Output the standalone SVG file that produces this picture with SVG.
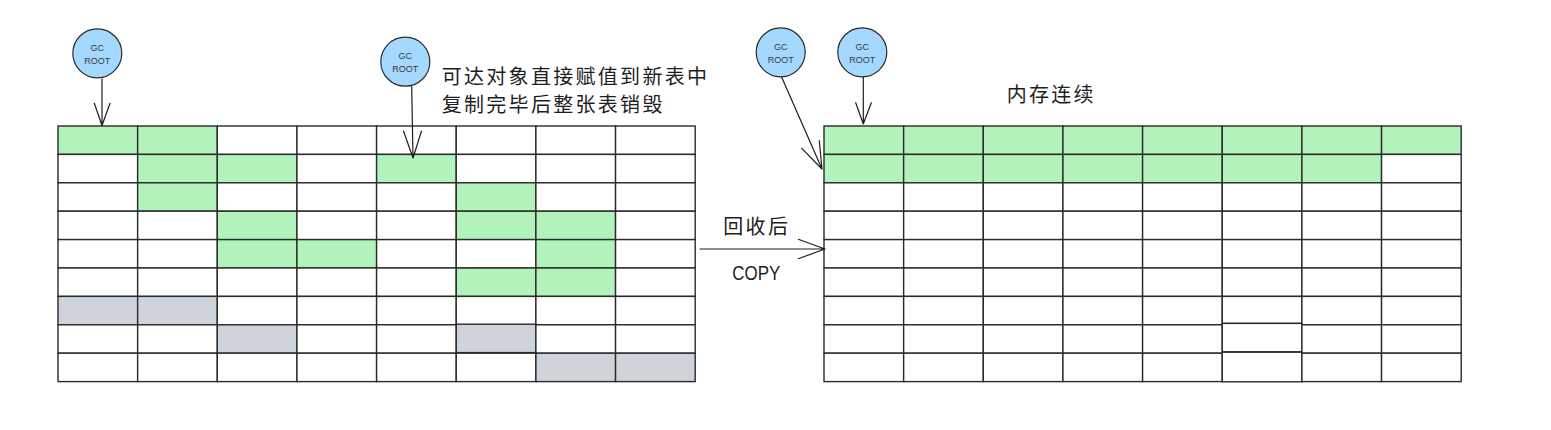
<svg xmlns="http://www.w3.org/2000/svg" width="1551" height="430" viewBox="0 0 1551 430">
<style>
.c rect{stroke:#2b2b2b;stroke-width:1.4}
.g{fill:#b2f2bb}.w{fill:#ffffff}.s{fill:#ced4da}
.root circle{fill:#a5d8ff;stroke:#2b2b2b;stroke-width:1.2}
.root text{font-family:"Liberation Sans",sans-serif;font-size:9px;fill:#343a40;text-anchor:middle}
.lbl{font-family:"Noto Sans CJK SC",sans-serif;font-size:20px;fill:#1e1e1e;letter-spacing:2.3px}
.conn path{fill:none;stroke:#1e1e1e;stroke-width:1.2;stroke-linecap:round;stroke-linejoin:round}
</style>
<rect width="1551" height="430" fill="#ffffff"/>
<g id="left-grid" class="c">
<g transform="translate(0,126)"><rect class="g" x="58" y="0" width="79.65" height="28.4"/><rect class="g" x="137.65" y="0" width="79.65" height="28.4"/><rect class="w" x="217.3" y="0" width="79.65" height="28.4"/><rect class="w" x="296.95" y="0" width="79.65" height="28.4"/><rect class="w" x="376.6" y="0" width="79.65" height="28.4"/><rect class="w" x="456.25" y="0" width="79.65" height="28.4"/><rect class="w" x="535.9" y="0" width="79.65" height="28.4"/><rect class="w" x="615.55" y="0" width="79.65" height="28.4"/></g>
<g transform="translate(0,154.4)"><rect class="w" x="58" y="0" width="79.65" height="28.4"/><rect class="g" x="137.65" y="0" width="79.65" height="28.4"/><rect class="g" x="217.3" y="0" width="79.65" height="28.4"/><rect class="w" x="296.95" y="0" width="79.65" height="28.4"/><rect class="g" x="376.6" y="0" width="79.65" height="28.4"/><rect class="w" x="456.25" y="0" width="79.65" height="28.4"/><rect class="w" x="535.9" y="0" width="79.65" height="28.4"/><rect class="w" x="615.55" y="0" width="79.65" height="28.4"/></g>
<g transform="translate(0,182.8)"><rect class="w" x="58" y="0" width="79.65" height="28.4"/><rect class="g" x="137.65" y="0" width="79.65" height="28.4"/><rect class="w" x="217.3" y="0" width="79.65" height="28.4"/><rect class="w" x="296.95" y="0" width="79.65" height="28.4"/><rect class="w" x="376.6" y="0" width="79.65" height="28.4"/><rect class="g" x="456.25" y="0" width="79.65" height="28.4"/><rect class="w" x="535.9" y="0" width="79.65" height="28.4"/><rect class="w" x="615.55" y="0" width="79.65" height="28.4"/></g>
<g transform="translate(0,211.2)"><rect class="w" x="58" y="0" width="79.65" height="28.4"/><rect class="w" x="137.65" y="0" width="79.65" height="28.4"/><rect class="g" x="217.3" y="0" width="79.65" height="28.4"/><rect class="w" x="296.95" y="0" width="79.65" height="28.4"/><rect class="w" x="376.6" y="0" width="79.65" height="28.4"/><rect class="g" x="456.25" y="0" width="79.65" height="28.4"/><rect class="g" x="535.9" y="0" width="79.65" height="28.4"/><rect class="w" x="615.55" y="0" width="79.65" height="28.4"/></g>
<g transform="translate(0,239.6)"><rect class="w" x="58" y="0" width="79.65" height="28.4"/><rect class="w" x="137.65" y="0" width="79.65" height="28.4"/><rect class="g" x="217.3" y="0" width="79.65" height="28.4"/><rect class="g" x="296.95" y="0" width="79.65" height="28.4"/><rect class="w" x="376.6" y="0" width="79.65" height="28.4"/><rect class="w" x="456.25" y="0" width="79.65" height="28.4"/><rect class="g" x="535.9" y="0" width="79.65" height="28.4"/><rect class="w" x="615.55" y="0" width="79.65" height="28.4"/></g>
<g transform="translate(0,268)"><rect class="w" x="58" y="0" width="79.65" height="28.4"/><rect class="w" x="137.65" y="0" width="79.65" height="28.4"/><rect class="w" x="217.3" y="0" width="79.65" height="28.4"/><rect class="w" x="296.95" y="0" width="79.65" height="28.4"/><rect class="w" x="376.6" y="0" width="79.65" height="28.4"/><rect class="g" x="456.25" y="0" width="79.65" height="28.4"/><rect class="g" x="535.9" y="0" width="79.65" height="28.4"/><rect class="w" x="615.55" y="0" width="79.65" height="28.4"/></g>
<g transform="translate(0,296.4)"><rect class="s" x="58" y="0" width="79.65" height="28.4"/><rect class="s" x="137.65" y="0" width="79.65" height="28.4"/><rect class="w" x="217.3" y="0" width="79.65" height="28.4"/><rect class="w" x="296.95" y="0" width="79.65" height="28.4"/><rect class="w" x="376.6" y="0" width="79.65" height="28.4"/><rect class="w" x="456.25" y="0" width="79.65" height="28.4"/><rect class="w" x="535.9" y="0" width="79.65" height="28.4"/><rect class="w" x="615.55" y="0" width="79.65" height="28.4"/></g>
<g transform="translate(0,324.8)"><rect class="w" x="58" y="0" width="79.65" height="28.4"/><rect class="w" x="137.65" y="0" width="79.65" height="28.4"/><rect class="s" x="217.3" y="0" width="79.65" height="28.4"/><rect class="w" x="296.95" y="0" width="79.65" height="28.4"/><rect class="w" x="376.6" y="0" width="79.65" height="28.4"/><rect class="s" x="456.25" y="-0.6" width="79.65" height="28.4"/><rect class="w" x="535.9" y="0" width="79.65" height="28.4"/><rect class="w" x="615.55" y="0" width="79.65" height="28.4"/></g>
<g transform="translate(0,353.2)"><rect class="w" x="58" y="0" width="79.65" height="28.4"/><rect class="w" x="137.65" y="0" width="79.65" height="28.4"/><rect class="w" x="217.3" y="0" width="79.65" height="28.4"/><rect class="w" x="296.95" y="0" width="79.65" height="28.4"/><rect class="w" x="376.6" y="0" width="79.65" height="28.4"/><rect class="w" x="456.25" y="0" width="79.65" height="28.4"/><rect class="s" x="535.9" y="0" width="79.65" height="28.4"/><rect class="s" x="615.55" y="0" width="79.65" height="28.4"/></g>
</g>
<g id="right-grid" class="c">
<g transform="translate(0,126)"><rect class="g" x="824" y="0" width="79.65" height="28.4"/><rect class="g" x="903.65" y="0" width="79.65" height="28.4"/><rect class="g" x="983.3" y="0" width="79.65" height="28.4"/><rect class="g" x="1062.95" y="0" width="79.65" height="28.4"/><rect class="g" x="1142.6" y="0" width="79.65" height="28.4"/><rect class="g" x="1222.25" y="0" width="79.65" height="28.4"/><rect class="g" x="1301.9" y="0" width="79.65" height="28.4"/><rect class="g" x="1381.55" y="0" width="79.65" height="28.4"/></g>
<g transform="translate(0,154.4)"><rect class="g" x="824" y="0" width="79.65" height="28.4"/><rect class="g" x="903.65" y="0" width="79.65" height="28.4"/><rect class="g" x="983.3" y="0" width="79.65" height="28.4"/><rect class="g" x="1062.95" y="0" width="79.65" height="28.4"/><rect class="g" x="1142.6" y="0" width="79.65" height="28.4"/><rect class="g" x="1222.25" y="0" width="79.65" height="28.4"/><rect class="g" x="1301.9" y="0" width="79.65" height="28.4"/><rect class="w" x="1381.55" y="0" width="79.65" height="28.4"/></g>
<g transform="translate(0,182.8)"><rect class="w" x="824" y="0" width="79.65" height="28.4"/><rect class="w" x="903.65" y="0" width="79.65" height="28.4"/><rect class="w" x="983.3" y="0" width="79.65" height="28.4"/><rect class="w" x="1062.95" y="0" width="79.65" height="28.4"/><rect class="w" x="1142.6" y="0" width="79.65" height="28.4"/><rect class="w" x="1222.25" y="0" width="79.65" height="28.4"/><rect class="w" x="1301.9" y="0" width="79.65" height="28.4"/><rect class="w" x="1381.55" y="0" width="79.65" height="28.4"/></g>
<g transform="translate(0,211.2)"><rect class="w" x="824" y="0" width="79.65" height="28.4"/><rect class="w" x="903.65" y="0" width="79.65" height="28.4"/><rect class="w" x="983.3" y="0" width="79.65" height="28.4"/><rect class="w" x="1062.95" y="0" width="79.65" height="28.4"/><rect class="w" x="1142.6" y="0" width="79.65" height="28.4"/><rect class="w" x="1222.25" y="0" width="79.65" height="28.4"/><rect class="w" x="1301.9" y="0" width="79.65" height="28.4"/><rect class="w" x="1381.55" y="0" width="79.65" height="28.4"/></g>
<g transform="translate(0,239.6)"><rect class="w" x="824" y="0" width="79.65" height="28.4"/><rect class="w" x="903.65" y="0" width="79.65" height="28.4"/><rect class="w" x="983.3" y="0" width="79.65" height="28.4"/><rect class="w" x="1062.95" y="0" width="79.65" height="28.4"/><rect class="w" x="1142.6" y="0" width="79.65" height="28.4"/><rect class="w" x="1222.25" y="0" width="79.65" height="28.4"/><rect class="w" x="1301.9" y="0" width="79.65" height="28.4"/><rect class="w" x="1381.55" y="0" width="79.65" height="28.4"/></g>
<g transform="translate(0,268)"><rect class="w" x="824" y="0" width="79.65" height="28.4"/><rect class="w" x="903.65" y="0" width="79.65" height="28.4"/><rect class="w" x="983.3" y="0" width="79.65" height="28.4"/><rect class="w" x="1062.95" y="0" width="79.65" height="28.4"/><rect class="w" x="1142.6" y="0" width="79.65" height="28.4"/><rect class="w" x="1222.25" y="0" width="79.65" height="28.4"/><rect class="w" x="1301.9" y="0" width="79.65" height="28.4"/><rect class="w" x="1381.55" y="0" width="79.65" height="28.4"/></g>
<g transform="translate(0,296.4)"><rect class="w" x="824" y="0" width="79.65" height="28.4"/><rect class="w" x="903.65" y="0" width="79.65" height="28.4"/><rect class="w" x="983.3" y="0" width="79.65" height="28.4"/><rect class="w" x="1062.95" y="0" width="79.65" height="28.4"/><rect class="w" x="1142.6" y="0" width="79.65" height="28.4"/><rect class="w" x="1222.25" y="0" width="79.65" height="27"/><rect class="w" x="1301.9" y="0" width="79.65" height="28.4"/><rect class="w" x="1381.55" y="0" width="79.65" height="28.4"/></g>
<g transform="translate(0,324.8)"><rect class="w" x="824" y="0" width="79.65" height="28.4"/><rect class="w" x="903.65" y="0" width="79.65" height="28.4"/><rect class="w" x="983.3" y="0" width="79.65" height="28.4"/><rect class="w" x="1062.95" y="0" width="79.65" height="28.4"/><rect class="w" x="1142.6" y="0" width="79.65" height="28.4"/><rect class="w" x="1222.25" y="-1.4" width="79.65" height="28.4"/><rect class="w" x="1301.9" y="0" width="79.65" height="28.4"/><rect class="w" x="1381.55" y="0" width="79.65" height="28.4"/></g>
<g transform="translate(0,353.2)"><rect class="w" x="824" y="0" width="79.65" height="28.4"/><rect class="w" x="903.65" y="0" width="79.65" height="28.4"/><rect class="w" x="983.3" y="0" width="79.65" height="28.4"/><rect class="w" x="1062.95" y="0" width="79.65" height="28.4"/><rect class="w" x="1142.6" y="0" width="79.65" height="28.4"/><rect class="w" x="1222.25" y="-1" width="79.65" height="29.6"/><rect class="w" x="1301.9" y="0" width="79.65" height="28.4"/><rect class="w" x="1381.55" y="0" width="79.65" height="28.4"/></g>
</g>
<g id="root1" class="root"><circle cx="97.3" cy="53.3" r="24.5"/><text x="97.3" y="50.6">GC</text><text x="97.3" y="64">ROOT</text></g>
<g id="root2" class="root"><circle cx="405.3" cy="61.7" r="24.5"/><text x="405.3" y="59">GC</text><text x="405.3" y="72.4">ROOT</text></g>
<g id="root3" class="root"><circle cx="780.7" cy="52.3" r="24.5"/><text x="780.7" y="49.6">GC</text><text x="780.7" y="63">ROOT</text></g>
<g id="root4" class="root"><circle cx="862.3" cy="52.3" r="24.5"/><text x="862.3" y="49.6">GC</text><text x="862.3" y="63">ROOT</text></g>
<g id="note-left"><text class="lbl" x="441.7" y="83.5">可达对象直接赋值到新表中</text><text class="lbl" x="441.7" y="111.5">复制完毕后整张表销毁</text></g>
<g id="note-right"><text class="lbl" x="1006.7" y="101.5">内存连续</text></g>
<g id="copy-label"><text class="lbl" x="723.3" y="233.5">回收后</text><text x="732.3" y="280" textLength="48" lengthAdjust="spacingAndGlyphs" font-family="Liberation Sans, sans-serif" font-size="21" fill="#1e1e1e">COPY</text></g>
<g id="connectors" class="conn">
<path d="M102,79 L102,125.5 M94.3,103.3 L102,125.5 L110,103.3"/>
<path d="M411.7,86.7 L413,158 M403.5,131 L413,158 L421.5,131"/>
<path d="M781.7,77.3 L822,169 M801.7,148.3 L822,169 L819.3,140.7"/>
<path d="M863.3,77 L863.3,124 M855.7,102.7 L863.3,124 L871.3,102.7"/>
<path d="M700,249 L825,249 M798.3,239.3 L825,249 L798.3,258.7"/>
</g>
</svg>
